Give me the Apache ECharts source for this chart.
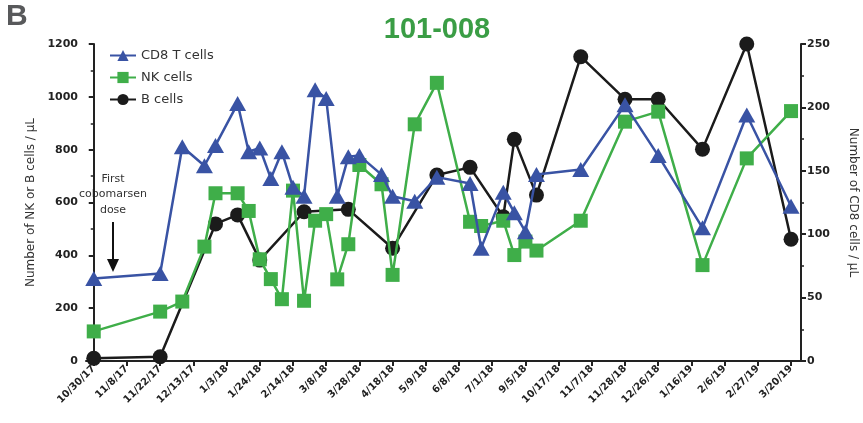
<!DOCTYPE html>
<html>
<head>
<meta charset="utf-8">
<script src="https://cdn.jsdelivr.net/npm/echarts@6/dist/echarts.min.js"></script>
<style>
  html, body { margin: 0; padding: 0; background: #fff; }
  #main { width: 863px; height: 423px; }
</style>
</head>
<body>
<div id="main"></div>
<script>
// x positions are weeks since 10/30/17, one tick label every 3 weeks
var dateLabels = ['10/30/17', '11/8/17', '11/22/17', '12/13/17', '1/3/18', '1/24/18', '2/14/18', '3/8/18',
    '3/28/18', '4/18/18', '5/9/18', '6/8/18', '7/1/18', '9/5/18', '10/17/18', '11/7/18', '11/28/18',
    '12/26/18', '1/16/19', '2/6/19', '2/27/19', '3/20/19'];
var tickWeeks = dateLabels.map(function (d, i) { return i * 3; });

var weeks = [0, 6, 8, 10, 11, 13, 14, 15, 16, 17, 18, 19, 20, 21, 22, 23, 24, 26, 27, 29, 31,
    34, 35, 37, 38, 39, 40, 44, 48, 51, 55, 59, 63];
var cd8Cells = [65, 69, 169, 154, 170, 203, 165, 168, 144, 165, 137, 130, 214, 207, 130, 161, 162,
    147, 130, 126, 145, 140, 89, 133, 117, 102, 147, 151, 202, 162, 105, 194, 122];
var nkCells = [112, 187, 225, 433, 635, 635, 568, 385, 310, 234, 645, 228, 531, 556, 309, 442, 742,
    669, 326, 896, 1053, 527, 511, 531, 401, 452, 418, 531, 906, 944, 363, 767, 946];

var bWeeks = [0, 6, 11, 13, 15, 19, 23, 27, 31, 34, 37, 38, 40, 44, 48, 51, 55, 59, 63];
var bCells = [10, 16, 519, 553, 382, 565, 574, 427, 704, 733, 546, 839, 628, 1152, 991, 991, 802, 1200, 461];

function pairs(xs, ys) {
    return xs.map(function (x, i) { return [x, ys[i]]; });
}

var BLUE = '#3953a4';
var GREEN = '#3fae49';
var BLACK = '#1b1b1b';
var FONT = 'DejaVu Sans';

var myChart = echarts.init(document.getElementById('main'));

var axisCommon = {
    axisLine: { show: true, lineStyle: { color: '#222', width: 2 } },
    axisTick: { show: true, length: 5, lineStyle: { color: '#222', width: 2 } },
    splitLine: { show: false }
};

var option = {
    backgroundColor: '#fff',
    animation: false,
    title: {
        text: '101-008',
        left: 432,
        top: 10,
        textAlign: 'center',
        textStyle: { color: '#3a9d45', fontSize: 29, fontWeight: 'bold', fontFamily: 'Liberation Sans' }
    },
    graphic: [
        {
            type: 'text', left: 6, top: 2,
            style: { text: 'B', fill: '#58595b', font: 'bold 30px "Liberation Sans"' }
        },
        {
            type: 'text', x: 113, y: 171,
            style: {
                text: 'First\ncobomarsen\ndose', fill: '#333', align: 'center', verticalAlign: 'top',
                font: '11px "DejaVu Sans"', lineHeight: 15.5
            }
        },
        {
            type: 'line',
            shape: { x1: 113, y1: 222, x2: 113, y2: 262 },
            style: { stroke: '#111', lineWidth: 2 }
        },
        {
            type: 'polygon',
            shape: { points: [[107, 259], [119, 259], [113, 272]] },
            style: { fill: '#111' }
        }
    ],
    legend: {
        orient: 'vertical',
        left: 104,
        top: 44,
        itemWidth: 26,
        itemHeight: 14,
        itemGap: 9,
        data: ['CD8 T cells', 'NK cells', 'B cells'],
        textStyle: { fontFamily: FONT, fontSize: 13, color: '#333' }
    },
    grid: { left: 86, right: 62, top: 44, bottom: 62, outerBoundsMode: 'none' },
    xAxis: Object.assign({}, axisCommon, {
        type: 'value',
        min: -0.7,
        max: 63.9,
        axisTick: {
            show: true, length: 5, customValues: tickWeeks,
            lineStyle: { color: '#222', width: 2 }
        },
        axisLabel: {
            customValues: tickWeeks,
            rotate: 45,
            margin: 6,
            fontFamily: FONT,
            fontSize: 10,
            fontWeight: 'bold',
            color: '#222',
            formatter: function (v) { return dateLabels[Math.round(v / 3)]; }
        }
    }),
    yAxis: [
        Object.assign({}, axisCommon, {
            type: 'value',
            min: 0, max: 1200, interval: 200,
            name: 'Number of NK or B cells / µL',
            nameLocation: 'middle',
            nameGap: 47,
            nameTextStyle: { fontFamily: FONT, fontSize: 12, color: '#333' },
            minorTick: { show: true, splitNumber: 2, length: 3, lineStyle: { color: '#222', width: 1.5 } },
            axisLabel: {
                fontFamily: FONT, fontSize: 11, fontWeight: 'bold', color: '#222', margin: 8,
                formatter: function (v) { return String(v); }
            }
        }),
        Object.assign({}, axisCommon, {
            type: 'value',
            position: 'right',
            min: 0, max: 250, interval: 50,
            name: 'Number of CD8 cells / µL',
            nameLocation: 'middle',
            nameRotate: -90,
            nameGap: 46,
            nameTextStyle: { fontFamily: FONT, fontSize: 12, color: '#333' },
            minorTick: { show: true, splitNumber: 2, length: 3, lineStyle: { color: '#222', width: 1.5 } },
            axisLabel: {
                fontFamily: FONT, fontSize: 11, fontWeight: 'bold', color: '#222', margin: 6,
                formatter: function (v) { return String(v); }
            }
        })
    ],
    series: [
        {
            name: 'B cells',
            type: 'line',
            yAxisIndex: 0,
            data: pairs(bWeeks, bCells),
            symbol: 'circle',
            symbolSize: 15,
            color: BLACK,
            lineStyle: { width: 2.5, color: BLACK },
            z: 2
        },
        {
            name: 'NK cells',
            type: 'line',
            yAxisIndex: 0,
            data: pairs(weeks, nkCells),
            symbol: 'rect',
            symbolSize: 14,
            color: GREEN,
            lineStyle: { width: 2.5, color: GREEN },
            z: 3
        },
        {
            name: 'CD8 T cells',
            type: 'line',
            yAxisIndex: 1,
            data: pairs(weeks, cd8Cells),
            symbol: 'triangle',
            symbolSize: [17, 15],
            color: BLUE,
            lineStyle: { width: 2.5, color: BLUE },
            z: 4
        }
    ]
};

myChart.setOption(option);
</script>
</body>
</html>
